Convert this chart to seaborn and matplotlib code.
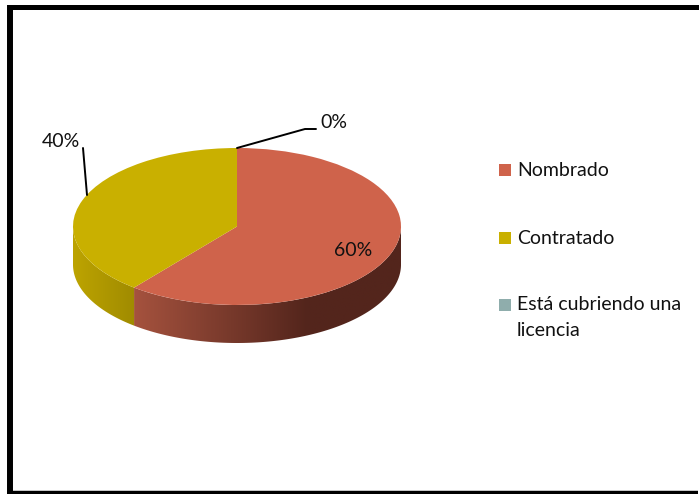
import numpy as np
import matplotlib
matplotlib.use("Agg")
import matplotlib.pyplot as plt
from matplotlib.colors import LinearSegmentedColormap
from matplotlib.patches import Polygon, Rectangle
import seaborn as sns

categories = ["Nombrado", "Contratado", "Está cubriendo una\nlicencia"]
shares = [60.8, 39.2, 0.0]
pct_labels = ["60%", "40%", "0%"]
colors = ["#cf634b", "#c9b000", "#8fadac"]
wall_stops = [
    [(0, "#a5523e"), (0.65, "#53251c"), (1, "#53251c")],
    [(0, "#bda400"), (1, "#a08b00")],
    [(0, "#7a9493"), (1, "#7a9493")],
]

sns.set_theme(style="white")
plt.rcParams['font.family'] = ['Lato', 'DejaVu Sans']

W, H = 699, 494
fig = plt.figure(figsize=(W / 100, H / 100), dpi=100, facecolor="white")

# pixel-coordinate layer for frame, labels and legend
bg = fig.add_axes([0, 0, 1, 1], zorder=3)
bg.set_xlim(0, W)
bg.set_ylim(H, 0)
bg.axis("off")

# pie position in pixels
left, right, top, ry, depth = 73, 401, 148, 78.5, 38
pie_h = 2 * ry + depth
ax = fig.add_axes([left / W, 1 - (top + pie_h) / H, (right - left) / W, pie_h / H], zorder=1)

wedges, _ = ax.pie(shares, colors=colors, startangle=90, counterclock=False,
                   radius=1, wedgeprops={"linewidth": 0, "zorder": 5})
d = depth / ry

# side wall of the disc, only the part facing front
for w, stops in zip(wedges, wall_stops):
    t1, t2 = max(w.theta1, -180), min(w.theta2, 0)
    if t2 <= t1:
        continue
    t = np.radians(np.linspace(t1, t2, 200))
    x, y = np.cos(t), np.sin(t)
    path = np.vstack([np.c_[x, y], np.c_[x[::-1], y[::-1] - d]])
    poly = Polygon(path, closed=True, transform=ax.transData, facecolor="none", edgecolor="none")
    ax.add_patch(poly)
    cmap = LinearSegmentedColormap.from_list("wall", stops)
    im = ax.imshow(np.linspace(0, 1, 256)[None, :], cmap=cmap, vmin=0, vmax=1,
                   extent=[x.min(), x.max(), -1 - d, 1], aspect="auto", zorder=2)
    im.set_clip_path(poly)

ax.set_aspect("auto")
ax.set_xlim(-1, 1)
ax.set_ylim(-1 - d, 1)
ax.axis("off")

# frame: open on the right side
bg.plot([10.3, 10.3], [H, 5], color="black", lw=4.3, solid_capstyle="butt")
bg.plot([7.3, W], [7.5, 7.5], color="black", lw=3.6, solid_capstyle="butt")
bg.plot([7.3, W - 1], [492.5, 492.5], color="black", lw=3.2, solid_capstyle="butt")

# data labels with leader lines
fs = 14
bg.text(353, 250, pct_labels[0], fontsize=fs, ha="center", va="center", color="#111111")
bg.text(61, 141.5, pct_labels[1], fontsize=fs, ha="center", va="center", color="#111111")
bg.text(334, 122.5, pct_labels[2], fontsize=fs, ha="center", va="center", color="#111111")
bg.plot([237, 305, 316], [148, 129, 129], color="black", lw=1.4)
bg.plot([83, 87], [148, 195], color="black", lw=1.4)

# legend
legend_y = [170, 238, 304.5]
for name, c, y in zip(categories, colors, legend_y):
    bg.add_patch(Rectangle((499, y - 6), 12, 12, facecolor=c, edgecolor="none"))
    bg.text(517, y - 8.5, name, fontsize=fs, va="top", ha="left", color="#111111",
            linespacing=1.63)

fig.savefig("out.png", dpi=100)
